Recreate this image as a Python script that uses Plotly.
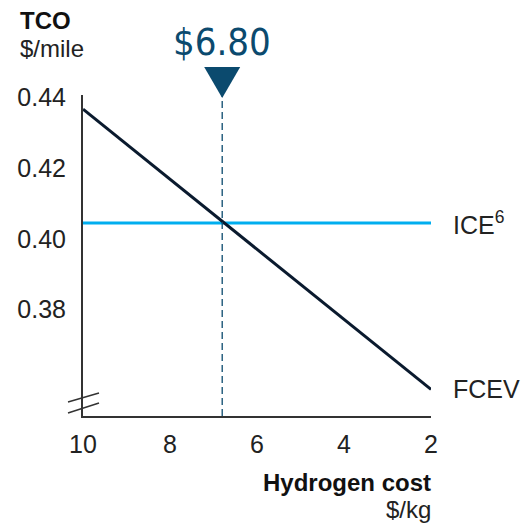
import plotly.graph_objects as go

# Total cost of ownership vs hydrogen cost
hydrogen_cost = [10, 2]
fcev_tco = [0.4366, 0.3575]
ice_tco = [0.4045, 0.4045]
breakeven_cost = 6.80
breakeven_label = "$6.80"

x_ticks = [10, 8, 6, 4, 2]
y_ticks = [0.38, 0.40, 0.42, 0.44]
y_tick_text = ["0.38", "0.40", "0.42", "0.44"]

NAVY = "#0a1a2e"
ICE_BLUE = "#00aeef"
MARK_BLUE = "#0b4a6e"
AXIS = "#333333"
TEXT = "#222222"
FONT = "Liberation Sans, Arial, sans-serif"
FS = 25

W, H = 527, 524
L, R, T, B = 83, 96, 95, 108
PW, PH = W - L - R, H - T - B

fig = go.Figure()

fig.add_trace(go.Scatter(
    x=hydrogen_cost, y=ice_tco, mode="lines",
    line=dict(color=ICE_BLUE, width=3), hoverinfo="skip", cliponaxis=False,
))
fig.add_trace(go.Scatter(
    x=hydrogen_cost, y=fcev_tco, mode="lines",
    line=dict(color=NAVY, width=3), hoverinfo="skip", cliponaxis=False,
))

# Dashed break-even guide
fig.add_shape(type="line", xref="x", yref="paper",
              x0=breakeven_cost, x1=breakeven_cost, y0=0, y1=1.0,
              line=dict(color=MARK_BLUE, width=1.3, dash="7px,4px"))

# Down-pointing marker above the break-even guide
fig.add_shape(type="path", xref="x", yref="paper",
              xsizemode="pixel", ysizemode="pixel",
              xanchor=breakeven_cost, yanchor=1.0,
              path="M-18,28 L18,28 L0,-3 Z",
              fillcolor=MARK_BLUE, line=dict(width=0))

# Axis break marks
def px_x(p):
    return (p - L) / PW

def px_y(p):
    return ((H - B) - p) / PH

for y_lo, y_hi in ((402, 393), (413, 403)):
    fig.add_shape(type="line", xref="paper", yref="paper",
                  x0=px_x(68), x1=px_x(99), y0=px_y(y_lo), y1=px_y(y_hi),
                  line=dict(color=AXIS, width=1.5))

fig.add_annotation(x=breakeven_cost, xref="x", y=px_y(42), yref="paper",
                   yanchor="middle", xanchor="center",
                   text=breakeven_label, showarrow=False,
                   font=dict(family="DejaVu Sans Condensed, Liberation Sans Narrow, sans-serif",
                             size=38, color=MARK_BLUE))

# Series labels
fig.add_annotation(x=2, xref="x", y=ice_tco[-1], yref="y", xshift=20,
                   xanchor="left", yanchor="middle",
                   text="ICE<sup>6</sup>", showarrow=False,
                   font=dict(family=FONT, size=FS, color=TEXT))
fig.add_annotation(x=2, xref="x", y=fcev_tco[-1], yref="y", xshift=20,
                   xanchor="left", yanchor="middle",
                   text="FCEV", showarrow=False,
                   font=dict(family=FONT, size=FS, color=TEXT))

# Axis titles
titles = [
    ("<b>TCO</b>", 19, 20, "left", "#111111"),
    ("$/mile", 19, 48, "left", TEXT),
    ("<b>Hydrogen cost</b>", 432, 482, "right", "#111111"),
    ("$/kg", 432, 509, "right", TEXT),
]
for text, xp, yp, xa, col in titles:
    fig.add_annotation(x=px_x(xp), xref="paper", y=px_y(yp), yref="paper",
                       xanchor=xa, yanchor="middle", text=text, showarrow=False,
                       borderpad=0,
                       font=dict(family=FONT, size=24, color=col))

fig.update_layout(
    width=W, height=H,
    margin=dict(l=L, r=R, t=T, b=B),
    paper_bgcolor="white", plot_bgcolor="white",
    showlegend=False,
    font=dict(family=FONT, size=FS, color=TEXT),
    xaxis=dict(range=[10, 2], tickvals=x_ticks, showgrid=False, zeroline=False,
               showline=True, linecolor=AXIS, linewidth=2, ticks="",
               ticklabelstandoff=5, tickfont=dict(size=FS, color=TEXT)),
    yaxis=dict(range=[0.35, 0.4406], tickvals=y_ticks, ticktext=y_tick_text,
               showgrid=False, zeroline=False,
               showline=True, linecolor=AXIS, linewidth=2, ticks="",
               ticklabelstandoff=10, tickfont=dict(size=FS, color=TEXT)),
)

fig.write_html("out.html")
